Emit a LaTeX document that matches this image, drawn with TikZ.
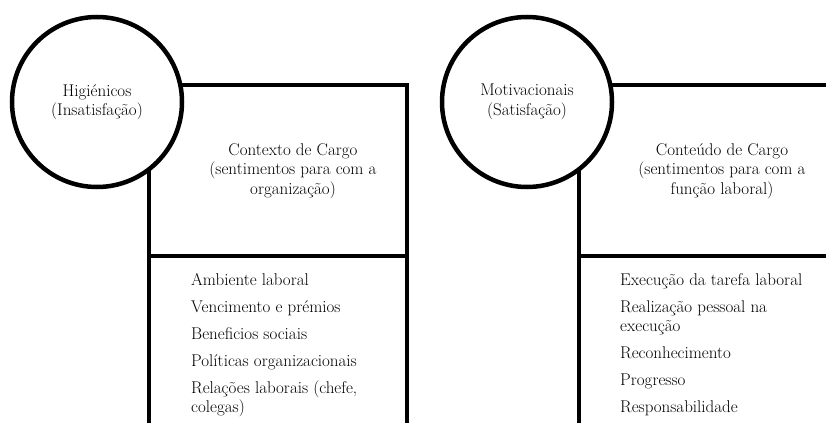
\documentclass[tikz,border=0pt]{standalone}
\usepackage{fontspec}
\begin{document}
\begin{tikzpicture}[
    x                   = 1pt,
    y                   = -1pt,
    every node/.style   = {font=\fontsize{17}{19.5}\selectfont, inner sep=0pt},
    factor/.style       = {draw, circle, line width=4.5pt, fill=white,
                           minimum size=170pt, align=center},
    frame/.style        = {draw, line width=4.5pt},
    heading/.style      = {align=center},
    itemlist/.style     = {align=left, anchor=north west}
  ]
\useasboundingbox (0,0) rectangle (826,423);
\coordinate (hygC)  at (97,102);
\coordinate (hygTR) at (407,85);
\coordinate (hygBR) at (407,423);
\coordinate (hygBL) at (149,423);
\coordinate (hygML) at (149,256);
\coordinate (motC)  at (527,102);
\coordinate (motTR) at (826,85);
\coordinate (motBL) at (579,423);
\coordinate (motML) at (579,256);
\coordinate (motMR) at (826,256);
\draw[frame] (hygC |- hygTR) -- (hygTR) -- (hygBR);
\draw[frame] (hygC -| hygBL) -- (hygBL);
\draw[frame] (hygML) -- (hygML -| hygTR);
\draw[frame] (motC |- motTR) -- (motTR);
\draw[frame] (motC -| motBL) -- (motBL);
\draw[frame] (motML) -- (motMR);
\node[factor] (hyg) at (hygC) {Higiénicos\\(Insatisfação)};
\node[factor] (mot) at (motC) {Motivacionais\\(Satisfação)};
\node[heading] (ctx)  at (293,171) {Contexto de Cargo\\(sentimentos para com a\\organização)};
\node[heading] (cont) at (722,171) {Conteúdo de Cargo\\(sentimentos para com a\\função laboral)};
\node[itemlist] (hyglist) at (191,273) {Ambiente laboral\\[7.5pt]
                                         Vencimento e prémios\\[7.5pt]
                                         Beneficios sociais\\[7.5pt]
                                         Políticas organizacionais\\[7.5pt]
                                         Relações laborais (chefe,\\colegas)};
\node[itemlist] (motlist) at (620,273) {Execução da tarefa laboral\\[7.5pt]
                                         Realização pessoal na\\execução\\[7.5pt]
                                         Reconhecimento\\[7.5pt]
                                         Progresso\\[7.5pt]
                                         Responsabilidade};
\end{tikzpicture}
\end{document}
